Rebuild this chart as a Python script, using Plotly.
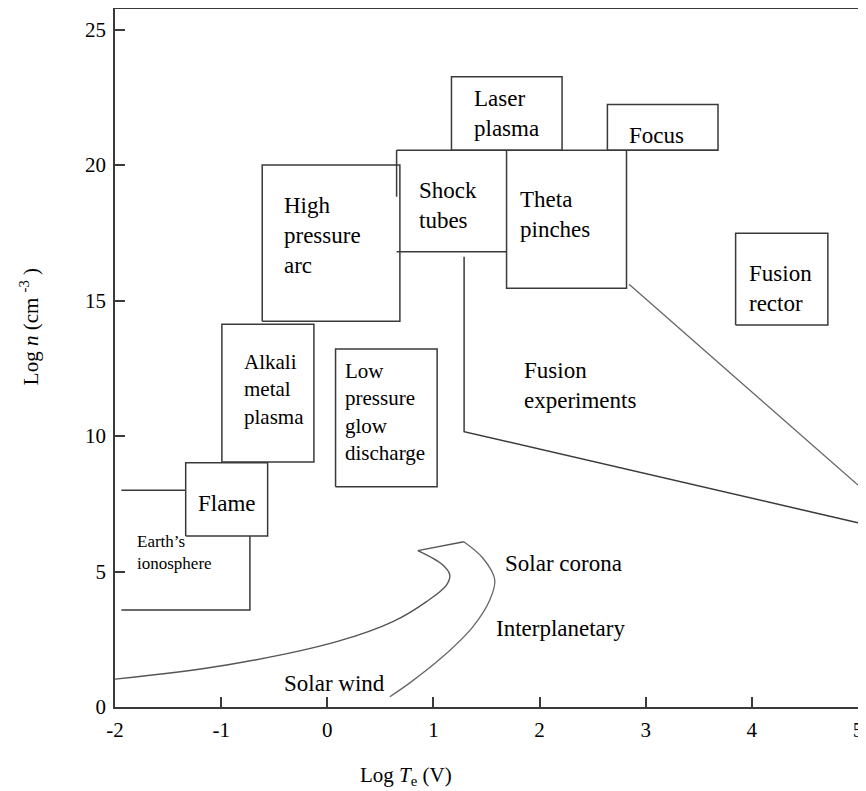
import plotly.graph_objects as go

# ---- data (Log Te in V, Log n in cm^-3) ----
earth_top_x = [-1.94, -1.334]
earth_top_n = [8.0, 8.0]
earth_side_x = [-0.729, -0.729, -1.94]
earth_side_n = [6.31, 3.58, 3.58]

flame_x = [-1.334, -0.562]
flame_n = [6.31, 9.01]

alkali_x = [-0.993, -0.126]
alkali_n = [9.04, 14.13]

lowp_x = [0.078, 1.035]
lowp_n = [8.13, 13.21]

highp_x = [-0.613, 0.684]
highp_n = [14.24, 20.0]

shock_left_x = [0.653, 0.653]
shock_left_n = [18.83, 20.55]
shock_bottom_x = [0.653, 1.689]
shock_bottom_n = [16.8, 16.8]

laser_x = [1.17, 2.212]
laser_n = [20.55, 23.26]

theta_x = [1.689, 2.819]
theta_n = [15.45, 20.55]

focus_x = [2.639, 3.681]
focus_n = [20.55, 22.24]

topline_x = [0.653, 3.681]
topline_n = [20.55, 20.55]

reactor_x = [3.847, 4.716]
reactor_n = [14.1, 17.48]

fusion_exp_x = [1.289, 1.289, 5.0]
fusion_exp_n = [16.62, 10.16, 6.8]

diag_x = [2.843, 5.0]
diag_n = [15.6, 8.19]

solar_inner_x = [-2.0, -0.948, 0.088, 0.618, 0.935, 1.123, 1.154, 1.089, 0.853]
solar_inner_n = [1.03, 1.55, 2.41, 3.15, 3.89, 4.50, 4.87, 5.24, 5.77]
solar_tip_x = [0.853, 1.286]
solar_tip_n = [5.77, 6.10]
solar_outer_x = [1.286, 1.465, 1.578, 1.531, 1.371, 1.089, 0.778, 0.589]
solar_outer_n = [6.10, 5.50, 4.69, 3.95, 2.96, 1.86, 0.89, 0.38]

x_ticks = [-2, -1, 0, 1, 2, 3, 4, 5]
x_tick_text = ["-2", "-1", "0", "1", "2", "3", "4", "5"]
y_ticks = [0, 5, 10, 15, 20, 25]
y_tick_text = ["0", "5", "10", "15", "20", "25"]

labels = ["Earth\u2019s<br>ionosphere", "Flame", "Alkali<br>metal<br>plasma",
          "Low<br>pressure<br>glow<br>discharge", "High<br>pressure<br>arc",
          "Shock<br>tubes", "Theta<br>pinches", "Laser<br>plasma", "Focus",
          "Fusion<br>rector", "Fusion<br>experiments", "Solar corona",
          "Interplanetary", "Solar wind"]
label_x = [-1.812, -0.949, -0.801, 0.150, -0.425, 0.846, 1.798, 1.359, 2.828,
           3.954, 1.830, 1.656, 1.569, -0.425]
label_n = [5.72, 7.52, 11.72, 10.90, 17.40, 18.51, 18.17, 21.89, 21.11,
           15.46, 11.88, 5.30, 2.88, 0.87]
label_size = [17, 23, 21, 21, 23, 23, 23, 23, 23, 23, 23, 23, 23, 23]
label_anchor = ["left", "center"] + ["left"] * 12

# ---- figure ----
FONT = "Liberation Serif"
BOX = "#3a3a3a"
fig = go.Figure()


def poly(xs, ys, color=BOX, width=1.5, shape="linear"):
    fig.add_trace(go.Scatter(x=xs, y=ys, mode="lines",
                             line=dict(color=color, width=width, shape=shape),
                             hoverinfo="skip", showlegend=False))


def box(xr, yr):
    poly([xr[0], xr[1], xr[1], xr[0], xr[0]],
         [yr[0], yr[0], yr[1], yr[1], yr[0]])


poly(earth_top_x, earth_top_n)
poly(earth_side_x, earth_side_n)
box(flame_x, flame_n)
box(alkali_x, alkali_n)
box(lowp_x, lowp_n)
box(highp_x, highp_n)
poly(shock_left_x, shock_left_n)
poly(shock_bottom_x, shock_bottom_n)
box(laser_x, laser_n)
poly([theta_x[0], theta_x[0], theta_x[1], theta_x[1]],
     [theta_n[1], theta_n[0], theta_n[0], theta_n[1]])
box(focus_x, focus_n)
poly(topline_x, topline_n)
box(reactor_x, reactor_n)
poly(fusion_exp_x, fusion_exp_n)
poly(diag_x, diag_n, color="#666666", width=1.3)
poly(solar_inner_x, solar_inner_n, color="#555555", width=1.4, shape="spline")
poly(solar_tip_x, solar_tip_n, color="#555555", width=1.4)
poly(solar_outer_x, solar_outer_n, color="#666666", width=1.3, shape="spline")

for t, x, y, s, a in zip(labels, label_x, label_n, label_size, label_anchor):
    fig.add_annotation(x=x, y=y, xref="x", yref="y", text=t, showarrow=False,
                       xanchor=a, yanchor="middle", align="left",
                       font=dict(family=FONT, size=s, color="black"))

fig.add_annotation(x=0.392, y=-0.099, xref="paper", yref="paper",
                   text="Log <i>T</i><sub>e</sub> (V)", showarrow=False,
                   xanchor="center", yanchor="middle",
                   font=dict(family=FONT, size=21, color="black"))
fig.add_annotation(x=-0.115, y=0.545, xref="paper", yref="paper",
                   text="Log <i>n</i> (cm <sup>-3</sup> )", showarrow=False,
                   textangle=-90, xanchor="center", yanchor="middle",
                   font=dict(family=FONT, size=21, color="black"))

axis_common = dict(showline=True, mirror=True, linecolor=BOX, linewidth=1.5,
                   ticks="inside", ticklen=10, tickwidth=1.5, tickcolor=BOX,
                   showgrid=False, zeroline=False, automargin=False,
                   tickfont=dict(family=FONT, size=21, color="black"))
fig.update_xaxes(range=[-2, 5], tickvals=x_ticks, ticktext=x_tick_text,
                 ticklabelstandoff=3, **axis_common)
fig.update_yaxes(range=[0, 25.76], tickvals=y_ticks, ticktext=y_tick_text,
                 ticklabelstandoff=3, **axis_common)
# the page body adds an 8 px offset, so the figure is sized to fit the window
fig.update_layout(width=858, height=783,
                  margin=dict(l=107, r=7.5, t=1, b=84, autoexpand=False),
                  paper_bgcolor="white", plot_bgcolor="white")

fig.write_html("out.html")
